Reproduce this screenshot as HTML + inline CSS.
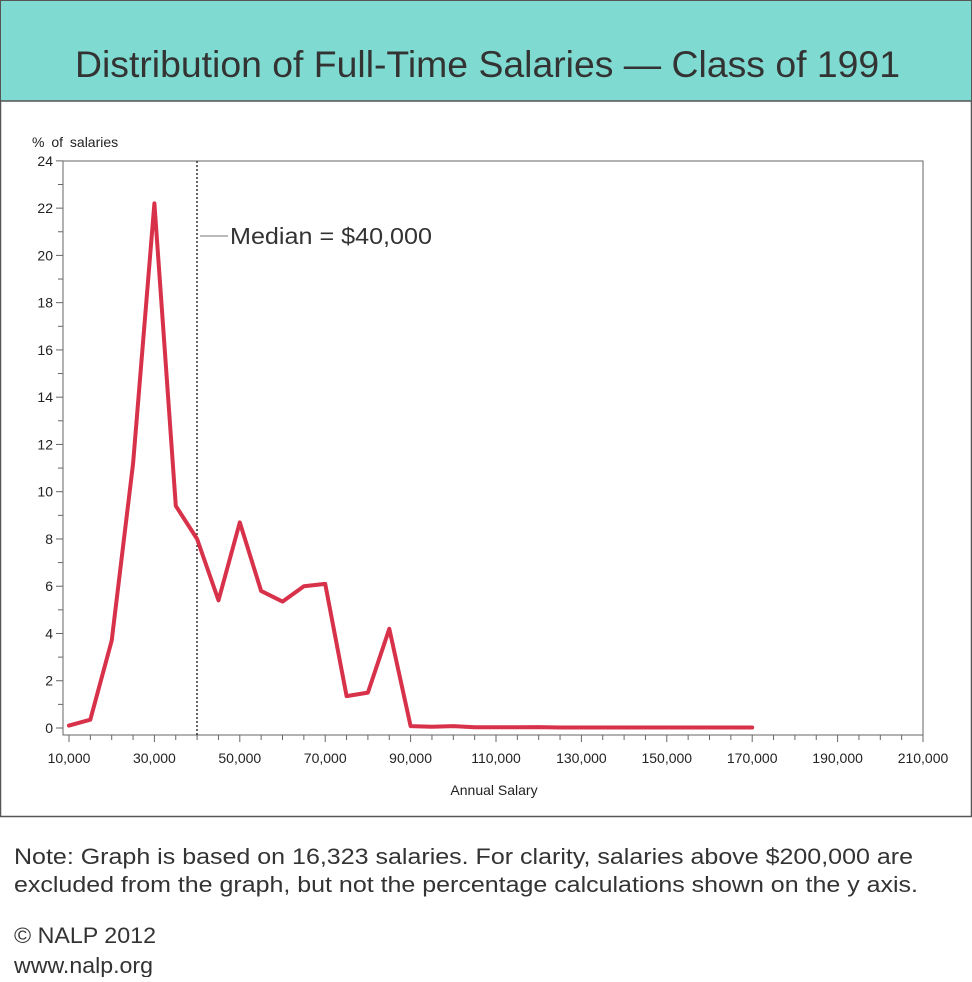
<!DOCTYPE html>
<html><head><meta charset="utf-8"><style>
body{margin:0;background:#fff;font-family:"Liberation Sans",Arial,sans-serif;}
</style></head><body>
<svg width="972" height="977" xmlns="http://www.w3.org/2000/svg" font-family="Liberation Sans, Arial, sans-serif">
<rect x="0.5" y="0.5" width="971" height="816" fill="#fff" stroke="#555" stroke-width="1.5"/>
<rect x="1" y="1" width="970" height="100" fill="#7fdbd1"/>
<line x1="0" y1="101" x2="972" y2="101" stroke="#555" stroke-width="1.5"/>
<text x="75" y="77" font-size="37" textLength="825" lengthAdjust="spacingAndGlyphs" fill="#333">Distribution of Full-Time Salaries — Class of 1991</text>
<text x="32" y="147" font-size="14" fill="#222" word-spacing="3">% of salaries</text>
<rect x="63" y="161" width="860" height="574" fill="none" stroke="#666" stroke-width="1"/>
<g id="yt" font-size="14" fill="#222" text-anchor="end"></g>
<g id="xt" font-size="14" fill="#222" text-anchor="middle"></g>
<text x="494" y="795" font-size="14" text-anchor="middle" fill="#222">Annual Salary</text>
<line x1="197" y1="161" x2="197" y2="735" stroke="#333" stroke-width="1.5" stroke-dasharray="2,2"/>
<line x1="200" y1="236" x2="228" y2="236" stroke="#777" stroke-width="1"/>
<text x="230" y="244" font-size="23" textLength="202" lengthAdjust="spacingAndGlyphs" fill="#333">Median = $40,000</text>
<polyline id="pl" fill="none" stroke="#d8314a" stroke-width="4" stroke-linejoin="round" stroke-linecap="round"/>
<text x="14" y="864" font-size="22" textLength="899" lengthAdjust="spacingAndGlyphs" fill="#333">Note: Graph is based on 16,323 salaries. For clarity, salaries above $200,000 are</text>
<text x="14" y="892" font-size="22" textLength="904" lengthAdjust="spacingAndGlyphs" fill="#333">excluded from the graph, but not the percentage calculations shown on the y axis.</text>
<text x="14" y="943" font-size="22" textLength="142" lengthAdjust="spacingAndGlyphs" fill="#333">© NALP 2012</text>
<text x="14" y="973" font-size="22" textLength="139" lengthAdjust="spacingAndGlyphs" fill="#333">www.nalp.org</text>
</svg>
<script>
var ns="http://www.w3.org/2000/svg";
function Y(v){return 728-v*23.63;}function X(s){return 69+(s-10000)*0.00427;}
function el(p,t,a,txt){var e=document.createElementNS(ns,t);for(var k in a)e.setAttribute(k,a[k]);if(txt!=null)e.textContent=txt;p.appendChild(e);}
var yt=document.getElementById('yt'),xt=document.getElementById('xt');
for(var v=0;v<=24;v++){var y=Y(v);el(yt,'line',{x1:v%2?58:56,x2:63,y1:y,y2:y,stroke:'#666'});if(v%2==0)el(yt,'text',{x:53,y:y+5},v);}
for(var s=10000;s<=210000;s+=5000){var x=X(s);el(xt,'line',{x1:x,x2:x,y1:735,y2:s%20000==10000?742:740,stroke:'#666'});if(s%20000==10000)el(xt,'text',{x:x,y:763},s.toLocaleString('en-US'));}
var d=[0.1,0.35,3.7,11.2,22.2,9.4,8.0,5.4,8.7,5.8,5.35,6.0,6.1,1.35,1.5,4.2,0.08,0.05,0.08,0.03,0.03,0.03,0.04,0.02,0.02,0.02,0.02,0.02,0.02,0.02,0.02,0.02,0.02];
var p=[];d.forEach(function(v,i){p.push(X(10000+i*5000).toFixed(1)+','+Y(v).toFixed(1));});
document.getElementById('pl').setAttribute('points',p.join(' '));
</script>
</body></html>
